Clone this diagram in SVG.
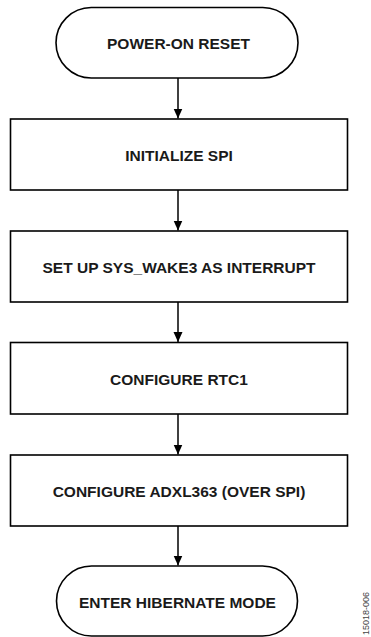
<svg xmlns="http://www.w3.org/2000/svg" width="371" height="637" viewBox="0 0 371 637">
<style>
.shape{fill:#fff;stroke:#000;stroke-width:1.6}
.lbl{font-family:"Liberation Sans",Arial,sans-serif;font-weight:bold;font-size:15.5px;fill:#1a1a1a;text-anchor:middle}
.conn{stroke:#000;stroke-width:1.5;fill:none}
.wm{font-family:"Liberation Sans",Arial,sans-serif;font-size:9px;fill:#444}
</style>
<defs>
<marker id="ah" markerWidth="10" markerHeight="17" refX="10" refY="4.5" orient="auto" markerUnits="userSpaceOnUse" viewBox="0 0 10 9">
<path d="M0,0 L10,4.5 L0,9 Z" fill="#000"/>
</marker>
</defs>
<g id="connectors">
<line class="conn" x1="178" y1="78" x2="178" y2="118.5" marker-end="url(#ah)"/>
<line class="conn" x1="178" y1="190" x2="178" y2="230.5" marker-end="url(#ah)"/>
<line class="conn" x1="178" y1="302" x2="178" y2="342" marker-end="url(#ah)"/>
<line class="conn" x1="178" y1="414" x2="178" y2="454.5" marker-end="url(#ah)"/>
<line class="conn" x1="178" y1="526" x2="178" y2="565.5" marker-end="url(#ah)"/>
</g>
<g id="n1">
<rect class="shape" x="56" y="7.5" width="242" height="70.5" rx="35.25" ry="35.25"/>
<text class="lbl" x="178.5" y="49">POWER-ON RESET</text>
</g>
<g id="n2">
<rect class="shape" x="10.5" y="119" width="337" height="71"/>
<text class="lbl" x="179" y="161">INITIALIZE SPI</text>
</g>
<g id="n3">
<rect class="shape" x="10.5" y="231" width="337" height="71"/>
<text class="lbl" x="179" y="273">SET UP SYS_WAKE3 AS INTERRUPT</text>
</g>
<g id="n4">
<rect class="shape" x="10.5" y="342.5" width="337" height="71.5"/>
<text class="lbl" x="179" y="384.5">CONFIGURE RTC1</text>
</g>
<g id="n5">
<rect class="shape" x="10.5" y="455" width="337" height="71"/>
<text class="lbl" x="179" y="497">CONFIGURE ADXL363 (OVER SPI)</text>
</g>
<g id="n6">
<rect class="shape" x="56.5" y="566" width="241" height="70" rx="35" ry="35"/>
<text class="lbl" x="177.5" y="607.5">ENTER HIBERNATE MODE</text>
</g>
<text class="wm" transform="translate(369,635) rotate(-90)">15018-006</text>
</svg>
